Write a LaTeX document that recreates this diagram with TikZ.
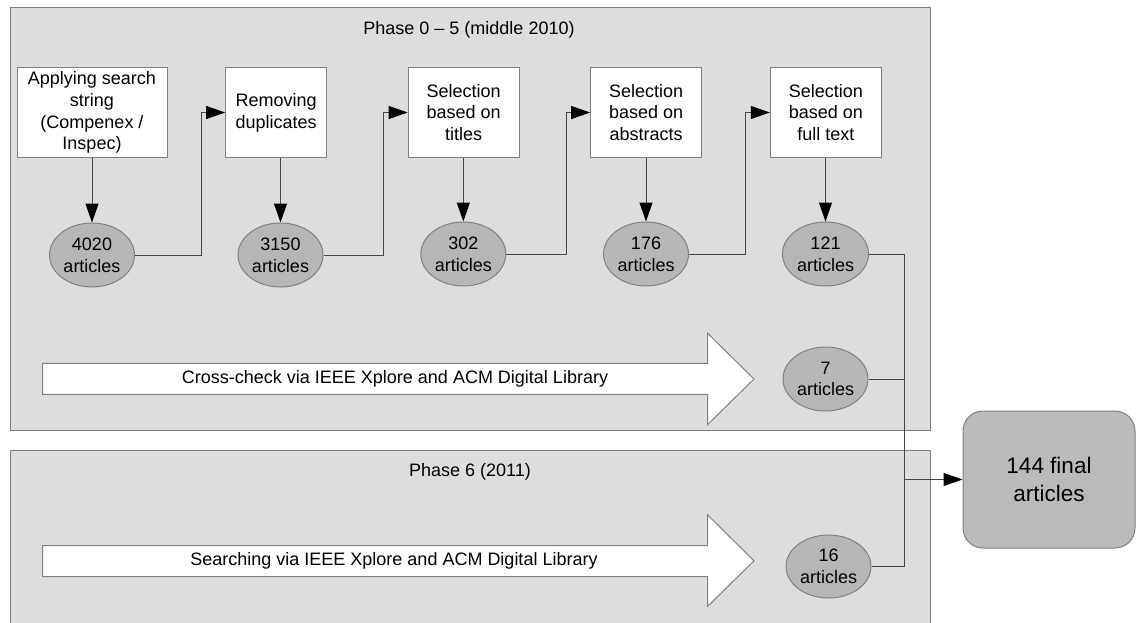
\documentclass[tikz,border=0pt]{standalone}
\usepackage{fontspec}
\setmainfont{Liberation Sans}
\usetikzlibrary{arrows.meta,shapes.geometric}

\definecolor{panelfill}{RGB}{221,221,221}
\definecolor{edgegray}{RGB}{128,128,128}
\definecolor{countfill}{RGB}{182,182,182}
\definecolor{finalfill}{RGB}{186,186,186}
\definecolor{linegray}{RGB}{70,70,70}

\newcommand\diagfont{\fontsize{18}{21.7}\selectfont}
\newcommand\finalfont{\fontsize{22.5}{27.7}\selectfont}

\tikzset{
  panel/.style={draw=edgegray, fill=panelfill, line width=1pt},
  stepbox/.style={draw=edgegray, fill=white, line width=1pt, minimum height=89pt,
    align=center, inner sep=2pt, font=\diagfont},
  count/.style={ellipse, draw=edgegray, fill=countfill, line width=1pt,
    minimum width=85pt, minimum height=64pt, inner sep=0pt, align=center, font=\diagfont},
  bigarrow/.style={draw=edgegray, fill=white, line width=1pt},
  wire/.style={draw=linegray, line width=1pt},
  flow/.style={wire, -{Triangle[length=19pt,width=13pt,color=black]}},
  title/.style={font=\diagfont, inner sep=0pt},
}

\begin{document}
\begin{tikzpicture}[x=1pt, y=-1pt]
\useasboundingbox (0,0) rectangle (1137,623);

% phase panels
\draw[panel] (10,8) rectangle (930,430);
\draw[panel] (10,450) rectangle (930,626);
\node[title] (t1) at (469,30) {Phase 0 -- 5 (middle 2010)};
\node[title] (t2) at (470,472) {Phase 6 (2011)};

% selection steps
\node[stepbox, minimum width=150pt] (b1) at (92,112.5) {Applying search\\string\\(Compenex /\\Inspec)};
\node[stepbox, minimum width=101pt] (b2) at (276.2,112.5) {Removing\\duplicates};
\node[stepbox, minimum width=111pt] (b3) at (463.7,112.5) {Selection\\based on\\titles};
\node[stepbox, minimum width=111pt] (b4) at (646.2,112.5) {Selection\\based on\\abstracts};
\node[stepbox, minimum width=111pt] (b5) at (825.8,112.5) {Selection\\based on\\full text};

% article counts
\node[count] (e1) at (92,255) {4020\\articles};
\node[count] (e2) at (280.5,255) {3150\\articles};
\node[count] (e3) at (463.3,254) {302\\articles};
\node[count] (e4) at (646,254) {176\\articles};
\node[count, minimum width=86pt] (e5) at (825.5,254) {121\\articles};
\node[count] (e7) at (825.5,379) {7\\articles};
\node[count, minimum height=63pt] (e16) at (828.5,566.5) {16\\articles};

% final result
\node[draw=edgegray, fill=finalfill, line width=1pt, rounded corners=20pt,
  minimum width=172pt, minimum height=137pt, align=center, font=\finalfont]
  (final) at (1049,479.5) {144 final\\articles};

% block arrows for the database searches
\draw[bigarrow] (42.7,363.3) -- (707.7,363.3) -- (707.7,333.3) -- (754,379)
  -- (707.7,424.5) -- (707.7,394.3) -- (42.7,394.3) -- cycle;
\node[font=\diagfont, inner sep=0pt] (x1) at (395,379) {Cross-check via IEEE Xplore and ACM Digital Library};
\draw[bigarrow] (42.7,545.7) -- (707.7,545.7) -- (707.7,515) -- (754,560.8)
  -- (707.7,606.3) -- (707.7,576.7) -- (42.7,576.7) -- cycle;
\node[font=\diagfont, inner sep=0pt] (x2) at (394,561) {Searching via IEEE Xplore and ACM Digital Library};

% step to count
\foreach \s/\c in {b1/e1, b2/e2, b3/e3, b4/e4, b5/e5}
  \draw[flow] (\c.north |- \s.south) -- (\c.north);

% count to next step
\coordinate (j1) at (201,0);
\coordinate (j2) at (383.5,0);
\coordinate (j3) at (566,0);
\coordinate (j4) at (745.7,0);
\draw[flow] (e1.east) -| (j1 |- b2.west) -- (b2.west);
\draw[flow] (e2.east) -| (j2 |- b3.west) -- (b3.west);
\draw[flow] (e3.east) -| (j3 |- b4.west) -- (b4.west);
\draw[flow] (e4.east) -| (j4 |- b5.west) -- (b5.west);

% merge into the final set
\coordinate (bus) at (904,0);
\draw[wire] (e5.east) -| (bus |- e16.east) -- (e16.east);
\draw[wire] (e7.east) -- (bus |- e7.east);
\draw[flow] (bus |- final.west) -- (final.west);
\end{tikzpicture}
\end{document}
